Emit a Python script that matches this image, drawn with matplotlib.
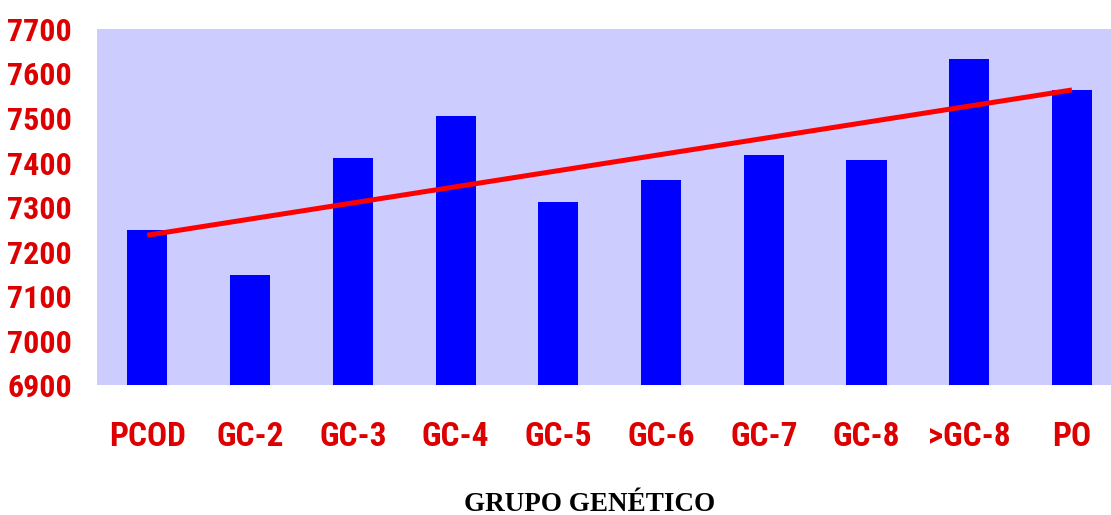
import matplotlib
matplotlib.use("Agg")
import matplotlib.pyplot as plt
from matplotlib.font_manager import FontProperties
import numpy as np

# data
grupos  = ["PCOD", "GC-2", "GC-3", "GC-4", "GC-5", "GC-6", "GC-7", "GC-8", ">GC-8", "PO"]
valores = [7248, 7148, 7410, 7504, 7311, 7361, 7416, 7405, 7632, 7563]
yticks  = [6900, 7000, 7100, 7200, 7300, 7400, 7500, 7600, 7700]

x = np.arange(len(grupos))

# linear trend over the bars
coef = np.polyfit(x, valores, 1)
trend = np.polyval(coef, x)

fig = plt.figure(figsize=(11.11, 5.15), dpi=100)
ax = fig.add_axes([0.0873, 0.2524, 0.9127, 0.6913])
ax.set_facecolor("#CCCCFF")

ax.bar(x, valores, width=0.39, color="#0000FF", zorder=2)
ax.plot([x[0], x[-1]], [trend[0], trend[-1]], color="#FF0000", lw=3.6,
        solid_capstyle="butt", zorder=3)

ax.set_ylim(6900, 7700)
ax.set_xlim(-0.49, 9.38)
ax.set_yticks(yticks)
ax.set_xticks(x)
ax.set_xticklabels(grupos)

fam = ["Roboto Condensed", "Liberation Sans Narrow", "Liberation Sans", "DejaVu Sans"]
fpy = FontProperties(family=fam, weight="heavy", size=23)
fpx = FontProperties(family=fam, weight="heavy", size=24)
for lab in ax.get_yticklabels():
    lab.set_fontproperties(fpy)
    lab.set_color("#DD0000")
for lab in ax.get_xticklabels():
    lab.set_fontproperties(fpx)
    lab.set_color("#DD0000")

ax.tick_params(axis="y", length=0, pad=18)
ax.tick_params(axis="x", length=0, pad=26)
for s in ax.spines.values():
    s.set_visible(False)

fig.text(0.531, 0.008, "GRUPO GENÉTICO", ha="center", va="baseline",
         family=["Liberation Serif", "DejaVu Serif"], weight="bold", size=19.5)

plt.savefig("out.png", dpi=100)
plt.close()
